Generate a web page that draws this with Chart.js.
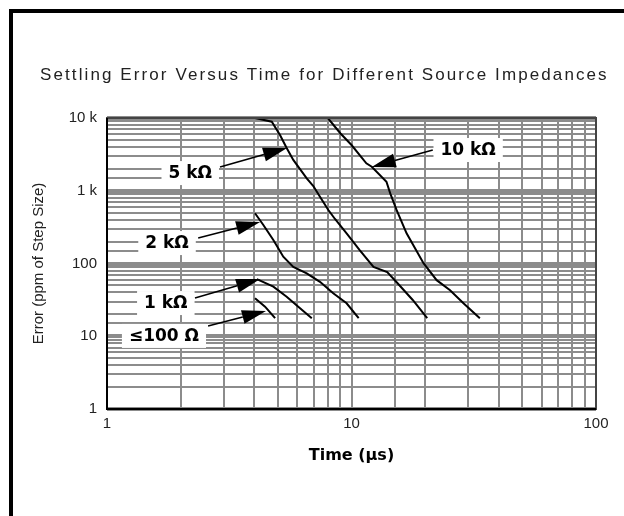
<!DOCTYPE html>
<html lang="en">
<head>
<meta charset="UTF-8" />
<title>Settling Error Versus Time for Different Source Impedances</title>
<script src="https://cdn.jsdelivr.net/npm/chart.js"></script>
<style>
  html, body { margin: 0; padding: 0; background: #fff; }
  #wrap { width: 624px; height: 516px; }
</style>
</head>
<body>
<div id="wrap"><canvas id="settleChart"></canvas></div>
<script>
// curves: time in us, error in ppm of step size
const chartTitle = 'Settling Error Versus Time for Different Source Impedances';
const seriesNames = ['10 kΩ', '5 kΩ', '2 kΩ', '1 kΩ', '≤100 Ω'];

const time10k = [8.0, 9.0, 10.0, 11.5, 12.1, 13.9, 14.4, 15.3, 16.8, 19.7, 22.3, 25.3, 28.7, 33.5];
const err10k  = [10000, 6170, 4250, 2380, 2140, 1330, 920, 540, 260, 101, 59, 43, 28.4, 17.7];

const time5k = [4.03, 4.72, 5.10, 5.43, 5.78, 6.56, 6.98, 7.43, 8.04, 8.56, 9.55, 10.8, 12.3, 14.0, 15.4, 17.8, 20.4];
const err5k  = [10000, 8900, 5840, 3870, 2650, 1480, 1160, 828, 543, 409, 260, 153, 90, 76, 54, 31.5, 17.8];

const time2k = [4.03, 4.36, 4.79, 5.26, 5.78, 6.56, 7.43, 8.42, 9.55, 10.7];
const err2k  = [490, 338, 210, 124, 90, 73, 56, 39, 28.4, 17.7];

const time1k = [4.10, 4.79, 5.43, 6.16, 6.88];
const err1k  = [61, 48, 35, 24.2, 17.7];

const time100 = [4.03, 4.43, 4.87];
const err100  = [33.3, 25.5, 17.7];

const xTickLabels = { 1: '1', 10: '10', 100: '100' };
const yTickLabels = { 1: '1', 10: '10', 100: '100', 1000: '1 k', 10000: '10 k' };

// callouts: label spot, arrow tail and arrow tip, in data units
const calloutLabelT = [30, 2.19, 1.76, 1.74, 1.71];
const calloutLabelE = [3630, 1750, 191, 28.6, 10.1];
const calloutFromT  = [21.5, 2.90, 2.36, 2.29, 2.59];
const calloutFromE  = [3630, 2120, 224, 33.6, 13.8];
const calloutTipT   = [12.1, 5.45, 4.23, 4.23, 4.47];
const calloutTipE   = [2120, 3870, 372, 61.2, 22.2];

const seriesTimes = [time10k, time5k, time2k, time1k, time100];
const seriesErrs  = [err10k, err5k, err2k, err1k, err100];

function isDecade(v) {
  const lg = Math.log10(v);
  return Math.abs(lg - Math.round(lg)) < 1e-6;
}

function decadeLabel(map, v) {
  if (!isDecade(v)) return '';
  return map[Math.round(v)] || '';
}

const frame = {
  id: 'frame',
  beforeDraw(chart) {
    const c = chart.ctx;
    c.save();
    c.fillStyle = '#fff';
    c.fillRect(0, 0, chart.width, chart.height);
    c.strokeStyle = '#000';
    c.lineWidth = 4;
    c.beginPath();
    c.moveTo(11, chart.height);
    c.lineTo(11, 11);
    c.lineTo(chart.width, 11);
    c.stroke();
    // title, spaced out like the scanned original
    c.fillStyle = '#222';
    c.font = '17px "Liberation Sans", Arial, sans-serif';
    c.textBaseline = 'middle';
    c.textAlign = 'left';
    c.letterSpacing = '2.1px';
    c.fillText(chartTitle, 40, 75);
    c.restore();
  },
  afterDatasetsDraw(chart) {
    const c = chart.ctx;
    const xs = chart.scales.x, ys = chart.scales.y;
    c.save();
    c.font = 'bold 17px "DejaVu Sans"';
    c.textAlign = 'center';
    c.textBaseline = 'middle';
    for (let i = 0; i < seriesNames.length; i++) {
      const lx = xs.getPixelForValue(calloutLabelT[i]);
      const ly = ys.getPixelForValue(calloutLabelE[i]);
      const w = c.measureText(seriesNames[i]).width;
      c.fillStyle = '#fff';
      c.fillRect(lx - w / 2 - 7, ly - 12, w + 14, 24);
      c.fillStyle = '#000';
      c.fillText(seriesNames[i], lx, ly + 1);

      const fx = xs.getPixelForValue(calloutFromT[i]);
      const fy = ys.getPixelForValue(calloutFromE[i]);
      const tx = xs.getPixelForValue(calloutTipT[i]);
      const ty = ys.getPixelForValue(calloutTipE[i]);
      const ang = Math.atan2(ty - fy, tx - fx);
      const head = 24, half = 7;
      const bx = tx - head * Math.cos(ang), by = ty - head * Math.sin(ang);
      c.strokeStyle = '#000';
      c.lineWidth = 1.6;
      c.beginPath();
      c.moveTo(fx, fy);
      c.lineTo(bx, by);
      c.stroke();
      c.beginPath();
      c.moveTo(tx, ty);
      c.lineTo(bx + half * Math.sin(ang), by - half * Math.cos(ang));
      c.lineTo(bx - half * Math.sin(ang), by + half * Math.cos(ang));
      c.closePath();
      c.fill();
    }
    // plot box
    const a = chart.chartArea;
    c.strokeStyle = '#444';
    c.lineWidth = 2;
    c.strokeRect(a.left, a.top, a.right - a.left, a.bottom - a.top);
    c.strokeStyle = '#000';
    c.beginPath();
    c.moveTo(a.left, a.top);
    c.lineTo(a.left, a.bottom);
    c.lineTo(a.right, a.bottom);
    c.stroke();
    c.restore();
  }
};

const datasets = seriesNames.map((name, i) => ({
  label: name,
  data: seriesTimes[i].map((t, j) => ({ x: t, y: seriesErrs[i][j] })),
  borderColor: '#000',
  borderWidth: 2,
  pointRadius: 0,
  tension: 0,
  fill: false
}));

const gridColor = '#8c8c8c';

new Chart(document.getElementById('settleChart'), {
  type: 'line',
  data: { datasets },
  plugins: [frame],
  options: {
    responsive: true,
    maintainAspectRatio: false,
    animation: false,
    layout: { padding: { left: 0, right: 28, top: 118, bottom: 0 } },
    plugins: {
      legend: { display: false },
      tooltip: { enabled: false },
      title: { display: false }
    },
    scales: {
      x: {
        type: 'logarithmic',
        min: 1,
        max: 100,
        afterFit: s => { s.height = 107; },
        border: { display: false },
        grid: {
          color: gridColor,
          lineWidth: 2,
          drawTicks: false
        },
        ticks: {
          autoSkip: false,
          maxRotation: 0,
          padding: 6,
          color: '#222',
          font: { family: '"Liberation Sans", Arial, sans-serif', size: 15 },
          callback: v => decadeLabel(xTickLabels, v)
        },
        title: {
          display: true,
          text: 'Time (µs)',
          color: '#000',
          font: { family: '"DejaVu Sans", sans-serif', size: 16, weight: 'bold', lineHeight: 1.2 },
          padding: { top: 0, bottom: 51 }
        }
      },
      y: {
        type: 'logarithmic',
        min: 1,
        max: 10000,
        afterFit: s => { s.width = 107; },
        border: { display: false },
        grid: {
          color: gridColor,
          lineWidth: c => (c.tick && isDecade(c.tick.value) ? 4 : 2),
          drawTicks: false
        },
        ticks: {
          autoSkip: false,
          padding: 10,
          color: '#222',
          font: { family: '"Liberation Sans", Arial, sans-serif', size: 15 },
          callback: v => decadeLabel(yTickLabels, v)
        },
        title: {
          display: true,
          text: 'Error (ppm of Step Size)',
          color: '#222',
          font: { family: '"Liberation Sans", Arial, sans-serif', size: 15, weight: 'normal', lineHeight: 1.2 },
          padding: { top: 30, bottom: 0 }
        }
      }
    }
  }
});
</script>
</body>
</html>
